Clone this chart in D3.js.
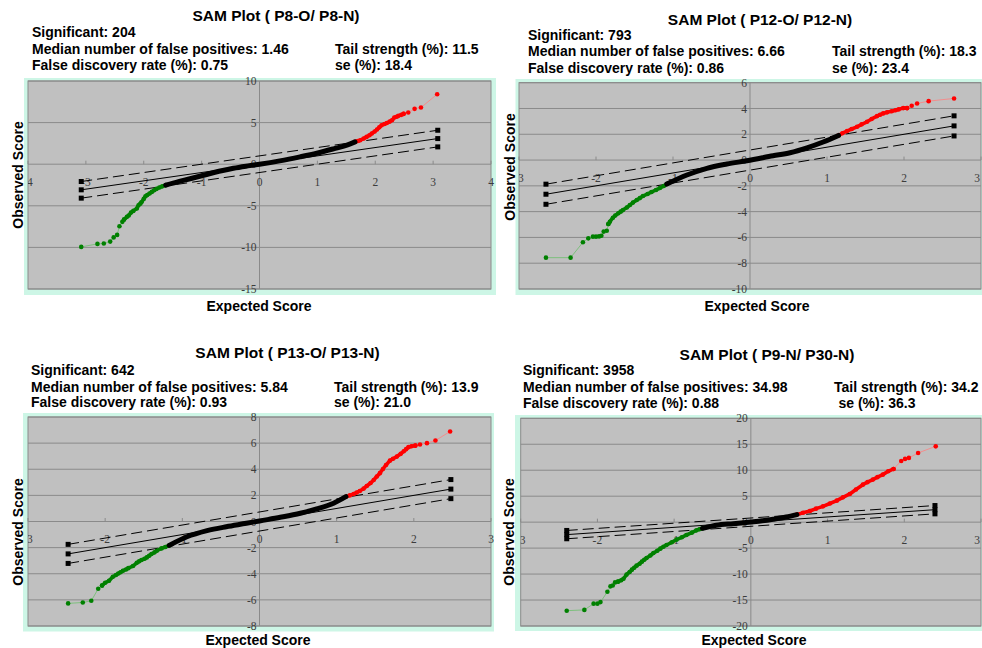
<!DOCTYPE html>
<html><head><meta charset="utf-8">
<script src="https://cdn.jsdelivr.net/npm/d3@7/dist/d3.min.js"></script>
<style>html,body{margin:0;padding:0;background:#fff;}svg{display:block;}</style>
</head><body>
<svg id="c" width="982" height="648"></svg>
<script>
// ---------- DATA ----------
const titles = ["SAM Plot ( P8-O/ P8-N)", "SAM Plot ( P12-O/ P12-N)", "SAM Plot ( P13-O/ P13-N)", "SAM Plot ( P9-N/ P30-N)"];
const significant = ["204", "793", "642", "3958"];
const medianFalsePos = ["1.46", "6.66", "5.84", "34.98"];
const falseDiscRate = ["0.75", "0.86", "0.93", "0.88"];
const tailStrength = ["11.5", "18.3", "13.9", "34.2"];
const seValues = ["18.4", "23.4", "21.0", "36.3"];
const xDomains = [[-4, 4], [-3, 3], [-3, 3], [-3, 3]];
const yDomains = [[-15, 10], [-10, 6], [-8, 8], [-20, 20]];
const yTickSteps = [5, 2, 2, 5];
const lineExtents = [[-3.08, 3.08], [-2.65, 2.65], [-2.48, 2.48], [-2.40, 2.40]];
const deltaValues = [1.0, 0.78, 0.73, 0.8];

// panel 1 (P8-O / P8-N)
const p1LowerSparse = [[-3.08,-9.94],[-2.80,-9.58],[-2.69,-9.53],[-2.58,-9.30],[-2.52,-8.80],[-2.46,-8.50],[-2.42,-7.45],[-2.37,-6.93],[-2.34,-6.65]];
const p1LowerDense = [[-2.34,-6.65],[-2.29,-6.33],[-2.26,-6.17],[-2.22,-5.81],[-2.18,-5.61],[-2.12,-5.33],[-2.09,-4.93],[-2.06,-4.75],[-2.04,-4.57],[-2.00,-4.17],[-1.97,-3.85],[-1.94,-3.70],[-1.90,-3.53],[-1.86,-3.33],[-1.82,-3.13],[-1.78,-2.97],[-1.73,-2.80],[-1.68,-2.66],[-1.62,-2.52]];
const p1Middle = [[-1.62,-2.52],[-1.40,-2.10],[-1.20,-1.75],[-0.95,-1.30],[-0.70,-0.85],[-0.45,-0.48],[-0.20,-0.20],[0.0,0.0],[0.35,0.40],[0.70,0.88],[0.99,1.32],[1.28,1.85],[1.51,2.30],[1.65,2.68]];
const p1UpperDense = [[1.65,2.68],[1.70,2.78],[1.74,2.88],[1.80,3.08],[1.85,3.28],[1.90,3.48],[1.94,3.69],[1.99,3.93],[2.03,4.17],[2.07,4.43],[2.11,4.69],[2.16,4.83],[2.20,4.96],[2.25,5.12],[2.29,5.29],[2.33,5.61],[2.37,5.71],[2.40,5.81],[2.45,5.93],[2.49,6.05]];
const p1UpperSparse = [[2.49,6.05],[2.57,6.21],[2.68,6.65],[2.79,6.81],[3.07,8.41]];

// panel 2 (P12-O / P12-N)
const p2LowerSparse = [[-2.65,-7.57],[-2.33,-7.57],[-2.17,-6.38],[-2.10,-6.07],[-2.04,-5.94],[-2.00,-5.94],[-1.96,-5.92],[-1.93,-5.87],[-1.90,-5.55],[-1.86,-5.48],[-1.84,-4.96]];
const p2LowerDense = [[-1.84,-4.96],[-1.82,-4.78],[-1.78,-4.47],[-1.75,-4.30],[-1.71,-4.13],[-1.68,-4.00],[-1.65,-3.88],[-1.60,-3.68],[-1.56,-3.49],[-1.52,-3.30],[-1.47,-3.10],[-1.43,-2.95],[-1.39,-2.79],[-1.33,-2.63],[-1.28,-2.48],[-1.22,-2.32],[-1.17,-2.17],[-1.12,-2.01],[-1.08,-1.86]];
const p2Middle = [[-1.08,-1.86],[-0.82,-1.16],[-0.56,-0.64],[-0.30,-0.31],[-0.04,-0.05],[0.30,0.33],[0.52,0.57],[0.74,0.95],[0.95,1.40],[1.15,1.91]];
const p2UpperDense = [[1.15,1.91],[1.20,2.08],[1.26,2.25],[1.32,2.41],[1.39,2.58],[1.45,2.77],[1.52,2.97],[1.58,3.19],[1.65,3.41],[1.69,3.52],[1.73,3.62],[1.78,3.70],[1.84,3.78],[1.89,3.86],[1.93,3.93],[1.99,4.03],[2.04,4.03]];
const p2UpperSparse = [[2.04,4.03],[2.10,4.21],[2.17,4.39],[2.32,4.57],[2.65,4.78]];

// panel 3 (P13-O / P13-N)
const p3LowerSparse = [[-2.48,-6.27],[-2.29,-6.20],[-2.18,-6.07],[-2.09,-5.15],[-2.04,-4.90]];
const p3LowerDense = [[-2.04,-4.90],[-2.00,-4.69],[-1.95,-4.54],[-1.90,-4.23],[-1.86,-4.10],[-1.83,-3.98],[-1.80,-3.88],[-1.77,-3.77],[-1.73,-3.67],[-1.70,-3.57],[-1.64,-3.41],[-1.59,-3.16],[-1.56,-3.05],[-1.53,-2.95],[-1.49,-2.85],[-1.46,-2.75],[-1.43,-2.62],[-1.40,-2.49],[-1.36,-2.36],[-1.33,-2.24],[-1.27,-2.06],[-1.22,-1.95],[-1.17,-1.83]];
const p3Middle = [[-1.17,-1.83],[-0.94,-1.17],[-0.68,-0.70],[-0.43,-0.40],[-0.17,-0.14],[0.0,0.04],[0.27,0.32],[0.53,0.63],[0.74,0.96],[0.96,1.40],[1.12,1.90]];
const p3UpperDense = [[1.12,1.90],[1.17,2.00],[1.22,2.11],[1.26,2.22],[1.30,2.34],[1.35,2.52],[1.39,2.72],[1.44,2.95],[1.48,3.18],[1.52,3.44],[1.56,3.70],[1.60,4.02],[1.64,4.33],[1.69,4.66],[1.73,4.80],[1.78,4.97],[1.83,5.18],[1.87,5.38],[1.90,5.54],[1.93,5.69],[1.97,5.76],[2.02,5.81]];
const p3UpperSparse = [[2.02,5.81],[2.08,5.89],[2.17,6.00],[2.28,6.20],[2.47,6.89]];

// panel 4 (P9-N / P30-N)
const p4LowerSparse = [[-2.40,-17.05],[-2.17,-16.90],[-2.05,-15.70],[-2.00,-15.70],[-1.96,-15.40],[-1.87,-13.40],[-1.83,-12.36],[-1.80,-12.20],[-1.77,-11.60],[-1.73,-11.45]];
const p4LowerDense = [[-1.73,-11.45],[-1.69,-11.20],[-1.66,-10.90],[-1.62,-10.10],[-1.58,-9.60],[-1.55,-9.15],[-1.52,-8.77],[-1.49,-8.38],[-1.45,-8.00],[-1.42,-7.61],[-1.39,-7.25],[-1.36,-6.90],[-1.31,-6.42],[-1.27,-5.94],[-1.22,-5.52],[-1.18,-5.10],[-1.14,-4.75],[-1.10,-4.40],[-1.03,-3.88],[-0.97,-3.37],[-0.90,-2.92],[-0.84,-2.47],[-0.77,-2.02],[-0.71,-1.58],[-0.67,-1.38],[-0.63,-1.19]];
const p4Middle = [[-0.63,-1.19],[-0.45,-0.61],[-0.23,-0.29],[0.0,0.02],[0.15,0.25],[0.29,0.55],[0.46,0.98],[0.60,1.45]];
const p4UpperDense = [[0.60,1.45],[0.68,1.80],[0.77,2.15],[0.85,2.60],[0.94,3.04],[1.03,3.59],[1.12,4.14],[1.20,4.78],[1.29,5.43],[1.37,6.30],[1.46,7.22],[1.52,7.70],[1.59,8.19],[1.65,8.67],[1.72,9.15],[1.79,9.79],[1.86,10.25]];
const p4UpperSparse = [[1.86,10.25],[1.96,11.79],[2.01,12.18],[2.06,12.37],[2.18,13.33],[2.41,14.60]];

const lowerSparse = [p1LowerSparse, p2LowerSparse, p3LowerSparse, p4LowerSparse];
const lowerDense = [p1LowerDense, p2LowerDense, p3LowerDense, p4LowerDense];
const middleCurves = [p1Middle, p2Middle, p3Middle, p4Middle];
const upperDense = [p1UpperDense, p2UpperDense, p3UpperDense, p4UpperDense];
const upperSparse = [p1UpperSparse, p2UpperSparse, p3UpperSparse, p4UpperSparse];

// ---------- LAYOUT ----------
const layout = [
  {frame:[24,78,496,295], plot:[28,81,491,289], title:[276,21], sx:32, tx:335, sex:335, sy:[37,54,70], obs:[18,175], exp:[259,311]},
  {frame:[515.5,79,982,295], plot:[519,82.7,981,289], title:[760,25], sx:528, tx:832, sex:832, sy:[39.5,56,72.5], obs:[510,167], exp:[757,311]},
  {frame:[23,413,494,631.5], plot:[28,417,491,626], title:[287.5,358], sx:31, tx:334, sex:334, sy:[375,391.5,407], obs:[17.5,532], exp:[258,645]},
  {frame:[515,415,982,631], plot:[520.7,418.3,981,626], title:[767,360], sx:523, tx:834, sex:838.5, sy:[375,391.5,407.5], obs:[509,532], exp:[754,645]}
];

const svg = d3.select("#c");
const defs = svg.append("defs");
const sans = "'Liberation Sans', Arial, sans-serif";
const serif = "'Liberation Serif', 'Times New Roman', serif";
const fmt = d => d3.format("d")(d).replace("\u2212", "-");

layout.forEach((L, i) => {
  const [pl, pt, pr, pb] = L.plot;
  const x = d3.scaleLinear().domain(xDomains[i]).range([pl, pr]);
  const y = d3.scaleLinear().domain(yDomains[i]).range([pb, pt]);
  const g = svg.append("g");

  // frame + plot background
  g.append("rect").attr("x", L.frame[0]).attr("y", L.frame[1])
    .attr("width", L.frame[2]-L.frame[0]).attr("height", L.frame[3]-L.frame[1])
    .attr("fill", "#cdf6e6");
  g.append("rect").attr("x", pl).attr("y", pt).attr("width", pr-pl).attr("height", pb-pt)
    .attr("fill", "#c0c0c0").attr("stroke", "#8a8a8a").attr("stroke-width", 1);

  // grid
  const yTicks = d3.range(yDomains[i][0], yDomains[i][1] + 0.001, yTickSteps[i]);
  g.append("g").selectAll("line").data(yTicks).join("line")
    .attr("x1", pl).attr("x2", pr).attr("y1", d => y(d)).attr("y2", d => y(d))
    .attr("stroke", "#8a8a8a").attr("stroke-width", 1);
  g.append("line").attr("x1", x(0)).attr("x2", x(0)).attr("y1", pt).attr("y2", pb)
    .attr("stroke", "#8a8a8a").attr("stroke-width", 1);

  const xTicks = d3.range(xDomains[i][0], xDomains[i][1] + 0.001, 1);
  g.append("g").selectAll("line").data(xTicks).join("line")
    .attr("x1", d => x(d)).attr("x2", d => x(d)).attr("y1", y(0) - 3.5).attr("y2", y(0))
    .attr("stroke", "#8a8a8a").attr("stroke-width", 1);

  const cid = "clipx" + i;
  defs.append("clipPath").attr("id", cid).append("rect")
    .attr("x", pl).attr("y", pt - 20).attr("width", L.frame[2] - pl).attr("height", pb - pt + 40);

  g.append("g").attr("clip-path", `url(#${cid})`).selectAll("text").data(xTicks).join("text")
    .attr("x", d => Math.min(x(d), 977)).attr("y", y(0) + 17.5).attr("dy", "0.35em")
    .attr("text-anchor", "middle").attr("font-family", serif).attr("font-size", 11.5)
    .attr("fill", "#3c3c3c").text(fmt);

  g.append("g").selectAll("text").data(yTicks).join("text")
    .attr("x", x(0) - 3).attr("y", d => y(d)).attr("dy", "0.35em")
    .attr("text-anchor", "end").attr("font-family", serif).attr("font-size", 11.5)
    .attr("fill", "#3c3c3c").text(fmt);

  // reference lines (y = x and y = x ± delta)
  const [e0, e1] = lineExtents[i];
  const dlt = deltaValues[i];
  [{o: dlt, dash: "11,5"}, {o: 0, dash: null}, {o: -dlt, dash: "11,5"}].forEach(r => {
    g.append("line").attr("x1", x(e0)).attr("y1", y(e0 + r.o)).attr("x2", x(e1)).attr("y2", y(e1 + r.o))
      .attr("stroke", "#000").attr("stroke-width", 1).attr("stroke-dasharray", r.dash);
    [e0, e1].forEach(e => {
      g.append("rect").attr("x", x(e) - 2.5).attr("y", y(e + r.o) - 2.5).attr("width", 5).attr("height", 5).attr("fill", "#000");
    });
  });

  const line = d3.line().x(d => x(d[0])).y(d => y(d[1]));
  const lineSmooth = d3.line().x(d => x(d[0])).y(d => y(d[1])).curve(d3.curveMonotoneX);

  const drawTail = (sparse, dense, col, lc) => {
    g.append("path").attr("d", line(sparse)).attr("fill", "none").attr("stroke", lc).attr("stroke-width", 0.8);
    g.append("path").attr("d", line(dense)).attr("fill", "none").attr("stroke", col)
      .attr("stroke-width", 3.6).attr("stroke-linejoin", "round").attr("stroke-linecap", "round");
    g.append("g").selectAll("circle").data(sparse.concat(dense)).join("circle")
      .attr("cx", d => x(d[0])).attr("cy", d => y(d[1])).attr("r", 2.3).attr("fill", col);
  };
  drawTail(lowerSparse[i], lowerDense[i], "#008000", "#6cbf6c");
  drawTail(upperSparse[i], upperDense[i], "#ff0000", "#ff8080");

  g.append("path").attr("d", lineSmooth(middleCurves[i])).attr("fill", "none")
    .attr("stroke", "#000").attr("stroke-width", 5).attr("stroke-linecap", "round");

  // texts
  g.append("text").attr("x", L.title[0]).attr("y", L.title[1]).attr("text-anchor", "middle")
    .attr("font-family", sans).attr("font-weight", "bold").attr("font-size", 15.5).attr("fill", "#000")
    .text(titles[i]);
  const tx = (xx, yy, s) => g.append("text").attr("x", xx).attr("y", yy).attr("font-family", sans)
    .attr("font-weight", "bold").attr("font-size", 14).attr("fill", "#000").text(s);
  tx(L.sx, L.sy[0], "Significant: " + significant[i]);
  tx(L.sx, L.sy[1], "Median number of false positives: " + medianFalsePos[i]);
  tx(L.sx, L.sy[2], "False discovery rate (%): " + falseDiscRate[i]);
  tx(L.tx, L.sy[1], "Tail strength (%): " + tailStrength[i]);
  tx(L.sex, L.sy[2], "se (%): " + seValues[i]);

  g.append("text").attr("transform", `translate(${L.obs[0]},${L.obs[1]}) rotate(-90)`)
    .attr("text-anchor", "middle").attr("dominant-baseline", "central")
    .attr("font-family", sans).attr("font-weight", "bold").attr("font-size", 14).text("Observed Score");
  g.append("text").attr("x", L.exp[0]).attr("y", L.exp[1]).attr("text-anchor", "middle")
    .attr("font-family", sans).attr("font-weight", "bold").attr("font-size", 14).text("Expected Score");
});
</script>
</body></html>
